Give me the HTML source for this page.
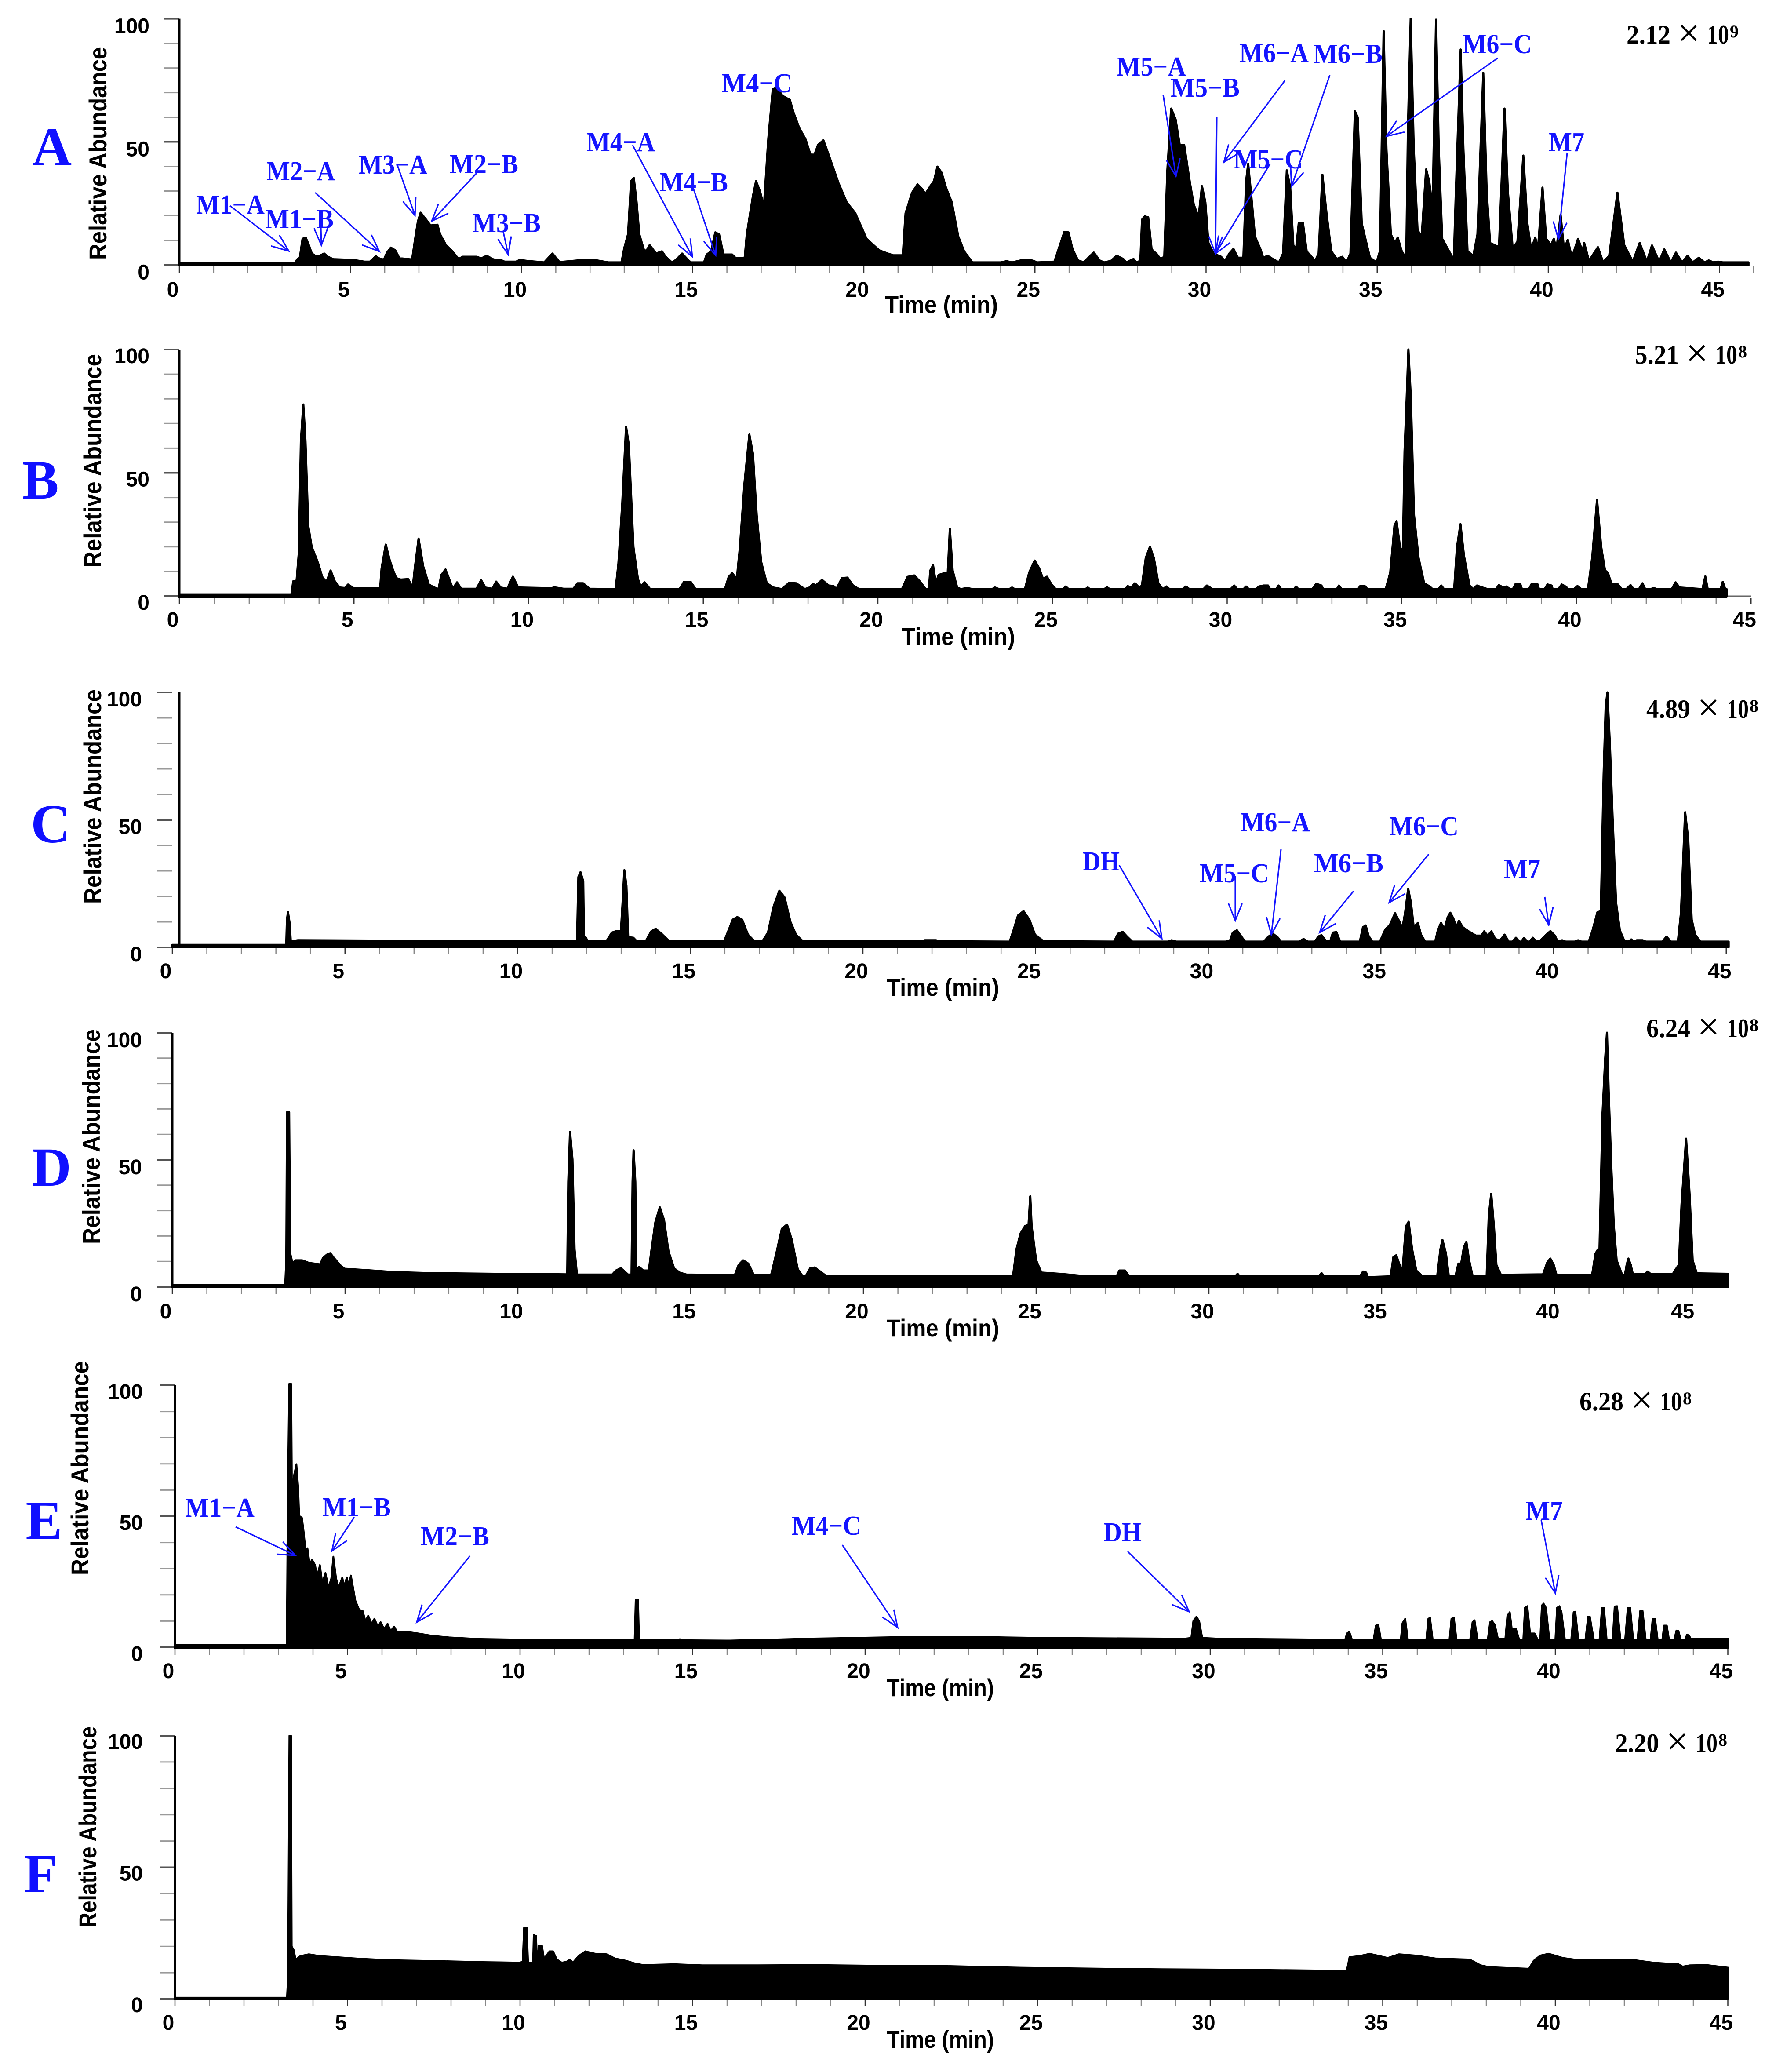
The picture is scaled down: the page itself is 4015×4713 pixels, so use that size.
<!DOCTYPE html>
<html lang="en">
<head>
<meta charset="utf-8">
<title>Chromatograms A-F</title>
<style>
html,body{margin:0;padding:0;background:#fff;}
svg{display:block;}
.tick{font-family:"Liberation Sans",Arial,sans-serif;font-weight:700;font-size:48px;fill:#000;}
.axt{font-family:"Liberation Sans",Arial,sans-serif;font-weight:700;font-size:56px;fill:#000;}
.yt{font-family:"Liberation Sans",Arial,sans-serif;font-weight:700;font-size:56px;fill:#000;}
.pl{font-family:"Liberation Serif",serif;font-weight:700;font-size:125px;fill:#1010ff;text-anchor:middle;}
.lb{font-family:"Liberation Serif",serif;font-weight:700;font-size:62px;fill:#1414ff;}
.v{font-family:"Liberation Serif",serif;font-weight:700;font-size:60px;fill:#000;}
.vx{font-family:"Liberation Serif",serif;font-size:90px;fill:#000;}
.vs{font-family:"Liberation Serif",serif;font-weight:700;font-size:40px;fill:#000;}
</style>
</head>
<body>
<svg id="figure" xmlns="http://www.w3.org/2000/svg" width="4015" height="4713" viewBox="0 0 4015 4713">
<rect x="0" y="0" width="4015" height="4713" fill="#fff"/>
<g id="marks"></g>

<text class="pl" x="118" y="376">A</text>
<text class="pl" x="92" y="1134">B</text>
<text class="pl" x="115" y="1916">C</text>
<text class="pl" x="117" y="2697">D</text>
<text class="pl" x="100" y="3500">E</text>
<text class="pl" x="93" y="4304">F</text>

<text class="yt" transform="translate(242,591) rotate(-90)" textLength="484" lengthAdjust="spacingAndGlyphs">Relative Abundance</text>
<text class="yt" transform="translate(230,1291) rotate(-90)" textLength="486" lengthAdjust="spacingAndGlyphs">Relative Abundance</text>
<text class="yt" transform="translate(230,2056) rotate(-90)" textLength="488" lengthAdjust="spacingAndGlyphs">Relative Abundance</text>
<text class="yt" transform="translate(227,2830) rotate(-90)" textLength="489" lengthAdjust="spacingAndGlyphs">Relative Abundance</text>
<text class="yt" transform="translate(201,3583) rotate(-90)" textLength="487" lengthAdjust="spacingAndGlyphs">Relative Abundance</text>
<text class="yt" transform="translate(219,4385) rotate(-90)" textLength="458" lengthAdjust="spacingAndGlyphs">Relative Abundance</text>

<text class="axt" x="2013" y="712" textLength="257" lengthAdjust="spacingAndGlyphs">Time (min)</text>
<text class="axt" x="2051" y="1467" textLength="258" lengthAdjust="spacingAndGlyphs">Time (min)</text>
<text class="axt" x="2017" y="2265" textLength="256" lengthAdjust="spacingAndGlyphs">Time (min)</text>
<text class="axt" x="2017" y="3040" textLength="256" lengthAdjust="spacingAndGlyphs">Time (min)</text>
<text class="axt" x="2017" y="3858" textLength="244" lengthAdjust="spacingAndGlyphs">Time (min)</text>
<text class="axt" x="2017" y="4658" textLength="244" lengthAdjust="spacingAndGlyphs">Time (min)</text>

<g transform="translate(3700,99)"><text class="v" textLength="100" lengthAdjust="spacingAndGlyphs">2.12</text><text class="vx" x="116" y="6">×</text><text class="v" x="183" textLength="50" lengthAdjust="spacingAndGlyphs">10</text><text class="vs" x="235" y="-14">9</text></g>
<g transform="translate(3719,827)"><text class="v" textLength="100" lengthAdjust="spacingAndGlyphs">5.21</text><text class="vx" x="116" y="6">×</text><text class="v" x="183" textLength="50" lengthAdjust="spacingAndGlyphs">10</text><text class="vs" x="235" y="-14">8</text></g>
<g transform="translate(3745,1633)"><text class="v" textLength="100" lengthAdjust="spacingAndGlyphs">4.89</text><text class="vx" x="116" y="6">×</text><text class="v" x="183" textLength="50" lengthAdjust="spacingAndGlyphs">10</text><text class="vs" x="235" y="-14">8</text></g>
<g transform="translate(3745,2359)"><text class="v" textLength="100" lengthAdjust="spacingAndGlyphs">6.24</text><text class="vx" x="116" y="6">×</text><text class="v" x="183" textLength="50" lengthAdjust="spacingAndGlyphs">10</text><text class="vs" x="235" y="-14">8</text></g>
<g transform="translate(3593,3208)"><text class="v" textLength="100" lengthAdjust="spacingAndGlyphs">6.28</text><text class="vx" x="116" y="6">×</text><text class="v" x="183" textLength="50" lengthAdjust="spacingAndGlyphs">10</text><text class="vs" x="235" y="-14">8</text></g>
<g transform="translate(3674,3985)"><text class="v" textLength="100" lengthAdjust="spacingAndGlyphs">2.20</text><text class="vx" x="116" y="6">×</text><text class="v" x="183" textLength="50" lengthAdjust="spacingAndGlyphs">10</text><text class="vs" x="235" y="-14">8</text></g>

<g id="arrows"></g>

<g>
<text class="lb" x="446" y="486" textLength="156" lengthAdjust="spacingAndGlyphs">M1−A</text>
<text class="lb" x="603" y="519" textLength="156" lengthAdjust="spacingAndGlyphs">M1−B</text>
<text class="lb" x="606" y="410" textLength="156" lengthAdjust="spacingAndGlyphs">M2−A</text>
<text class="lb" x="816" y="395" textLength="156" lengthAdjust="spacingAndGlyphs">M3−A</text>
<text class="lb" x="1023" y="394" textLength="156" lengthAdjust="spacingAndGlyphs">M2−B</text>
<text class="lb" x="1074" y="528" textLength="156" lengthAdjust="spacingAndGlyphs">M3−B</text>
<text class="lb" x="1334" y="344" textLength="156" lengthAdjust="spacingAndGlyphs">M4−A</text>
<text class="lb" x="1500" y="435" textLength="156" lengthAdjust="spacingAndGlyphs">M4−B</text>
<text class="lb" x="1642" y="210" textLength="160" lengthAdjust="spacingAndGlyphs">M4−C</text>
<text class="lb" x="2540" y="172" textLength="158" lengthAdjust="spacingAndGlyphs">M5−A</text>
<text class="lb" x="2662" y="220" textLength="158" lengthAdjust="spacingAndGlyphs">M5−B</text>
<text class="lb" x="2819" y="141" textLength="158" lengthAdjust="spacingAndGlyphs">M6−A</text>
<text class="lb" x="2987" y="143" textLength="158" lengthAdjust="spacingAndGlyphs">M6−B</text>
<text class="lb" x="2806" y="383" textLength="158" lengthAdjust="spacingAndGlyphs">M5−C</text>
<text class="lb" x="3327" y="121" textLength="158" lengthAdjust="spacingAndGlyphs">M6−C</text>
<text class="lb" x="3523" y="344" textLength="81" lengthAdjust="spacingAndGlyphs">M7</text>
</g>
<g>
<text class="lb" x="2463" y="1980" textLength="84" lengthAdjust="spacingAndGlyphs">DH</text>
<text class="lb" x="2729" y="2007" textLength="158" lengthAdjust="spacingAndGlyphs">M5−C</text>
<text class="lb" x="2822" y="1891" textLength="158" lengthAdjust="spacingAndGlyphs">M6−A</text>
<text class="lb" x="2989" y="1984" textLength="158" lengthAdjust="spacingAndGlyphs">M6−B</text>
<text class="lb" x="3160" y="1900" textLength="158" lengthAdjust="spacingAndGlyphs">M6−C</text>
<text class="lb" x="3421" y="1997" textLength="83" lengthAdjust="spacingAndGlyphs">M7</text>
</g>
<g>
<text class="lb" x="421" y="3450" textLength="158" lengthAdjust="spacingAndGlyphs">M1−A</text>
<text class="lb" x="733" y="3449" textLength="156" lengthAdjust="spacingAndGlyphs">M1−B</text>
<text class="lb" x="957" y="3515" textLength="156" lengthAdjust="spacingAndGlyphs">M2−B</text>
<text class="lb" x="1801" y="3491" textLength="158" lengthAdjust="spacingAndGlyphs">M4−C</text>
<text class="lb" x="2510" y="3506" textLength="87" lengthAdjust="spacingAndGlyphs">DH</text>
<text class="lb" x="3471" y="3457" textLength="84" lengthAdjust="spacingAndGlyphs">M7</text>
</g>
</svg>

<script>
// Series values: [time in minutes, relative abundance in %]
const panelAPoints = [[0,.6],[3.39,.7],[3.44,2.2],[3.52,2.9],[3.6,10.6],[3.69,11.1],[3.77,8.5],[3.87,4.6],[3.97,3.7],[4.1,3.7],[4.23,4.6],[4.34,3.3],[4.5,2.3],[5.08,2],[5.41,1.3],[5.57,1.3],[5.74,3.5],[5.87,2.4],[5.98,2.2],[6.07,5],[6.18,7],[6.31,5.9],[6.43,2.7],[6.8,2.2],[6.89,10.6],[6.97,17.6],[7.05,21.2],[7.18,18.9],[7.34,16],[7.54,16.3],[7.62,12.4],[7.79,8],[7.95,5.9],[8.16,2.4],[8.28,3.3],[8.69,3.3],[8.82,2.6],[8.98,3.7],[9.18,2.2],[9.39,2],[9.5,1.3],[9.84,1.3],[9.95,2],[10.16,1.6],[10.66,1],[10.9,4.6],[11.11,1.1],[11.8,2],[12.21,1.8],[12.54,1],[12.92,1],[13,6.8],[13.11,12.4],[13.2,34],[13.28,35.3],[13.36,25.4],[13.44,12.4],[13.57,6.3],[13.64,5.5],[13.74,8],[13.93,4.6],[14.1,5.5],[14.21,3.3],[14.39,1],[14.51,2],[14.69,4.6],[14.89,1.6],[14.95,1],[15.33,1],[15.41,4.2],[15.54,5.5],[15.66,13.2],[15.77,12.4],[15.9,4.2],[16.15,4.2],[16.26,2.7],[16.52,2.9],[16.58,12.4],[16.76,28],[16.85,34],[16.97,29.7],[17.08,23.6],[17.21,51.3],[17.34,71.3],[17.46,72],[17.62,68.7],[17.84,67],[17.95,61.7],[18.11,55.7],[18.3,50.9],[18.44,44.8],[18.56,44.8],[18.66,48.7],[18.82,50.6],[18.98,44.4],[19.26,33.2],[19.5,25.4],[19.75,21],[20.08,10.6],[20.45,5.9],[20.7,4.6],[20.86,3.9],[21.14,3.9],[21.22,21],[21.41,29.3],[21.57,32.7],[21.69,31],[21.8,28.8],[21.94,31.9],[22.05,34],[22.15,39.9],[22.27,37.5],[22.4,31.4],[22.57,25.4],[22.76,11.5],[22.93,5.5],[23.17,1],[24,1],[24.17,1.5],[24.33,1],[24.58,1.8],[24.91,1.8],[25.07,1],[25.57,1.3],[25.73,8],[25.86,13.4],[25.98,13.2],[26.1,6.3],[26.26,1.8],[26.43,1],[26.56,2.9],[26.72,5],[26.89,1.8],[27.02,1],[27.22,1.6],[27.39,3.7],[27.58,2.4],[27.67,1],[27.88,2.4],[27.96,1],[28.08,1.6],[28.13,18.4],[28.21,19.7],[28.31,19.3],[28.41,6.3],[28.57,4.2],[28.67,2.4],[28.78,3.3],[28.87,38.4],[28.98,63.5],[29.11,59.1],[29.23,48.7],[29.36,48.7],[29.53,33.2],[29.64,24.5],[29.78,19.3],[29.88,32],[29.98,25.4],[30.07,8.9],[30.22,4.6],[30.44,3.3],[30.55,1.5],[30.68,4.6],[30.8,6.5],[30.93,2.9],[31.09,2.9],[31.17,34],[31.23,41],[31.31,29.7],[31.43,11.5],[31.59,6.3],[31.67,2.9],[31.8,3.7],[31.95,2.4],[32.13,1],[32.25,4.6],[32.36,38.4],[32.46,31.4],[32.55,8],[32.63,6.3],[32.71,17.1],[32.83,17.1],[32.94,5.5],[33.19,1.6],[33.29,4.6],[33.4,36.6],[33.52,21],[33.66,5.5],[33.82,2.4],[33.98,3.3],[34.1,1],[34.22,4.6],[34.35,62.4],[34.43,60],[34.55,16.7],[34.79,2.9],[34.98,1],[35.08,5.5],[35.19,95],[35.27,47],[35.4,12.4],[35.52,8.9],[35.6,11.1],[35.72,5.5],[35.85,2.4],[35.9,55.7],[35.98,100],[36.07,47],[36.18,14.1],[36.3,11.5],[36.43,38.8],[36.52,34],[36.62,22.8],[36.72,99.6],[36.8,47],[36.9,10.6],[37.24,2],[37.3,29.7],[37.44,87.5],[37.52,47],[37.64,5.5],[37.81,3.7],[37.93,12.4],[38.1,78],[38.2,29.7],[38.3,8.9],[38.56,7.2],[38.72,63.5],[38.82,29.7],[38.96,6.8],[39.1,9.4],[39.27,44.4],[39.39,16.7],[39.5,6.3],[39.62,11.1],[39.7,6.3],[39.83,31.4],[39.94,10.6],[40.08,8],[40.16,10.6],[40.24,6.3],[40.36,20.3],[40.46,6.3],[40.57,10.2],[40.69,2.9],[40.87,10.6],[41,5.5],[41.05,8.9],[41.19,1.6],[41.45,7.2],[41.6,1.1],[41.78,3.7],[42.02,29.3],[42.22,8],[42.47,1.3],[42.67,8.9],[42.88,1.3],[43.03,7.9],[43.24,1.3],[43.39,6.3],[43.58,1],[43.73,5],[43.91,1],[44.07,3.7],[44.22,1],[44.4,2.9],[44.56,1],[44.69,1.8],[44.83,1],[44.96,1.3],[45.1,1],[45.85,1]];

const panelBPoints = [[0,.7],[3.21,.7],[3.26,6],[3.32,6.2],[3.35,5.2],[3.42,17.3],[3.48,63],[3.55,77.7],[3.61,63],[3.69,28.5],[3.79,19.9],[3.88,16.8],[3.98,13],[4.09,7.8],[4.21,5.6],[4.33,10.4],[4.45,6],[4.59,3.5],[4.74,3.3],[4.83,4.7],[4.98,3.3],[5.75,3.3],[5.79,11.2],[5.91,20.9],[6.02,14.7],[6.1,11.2],[6.21,7.3],[6.34,6.7],[6.55,6.9],[6.68,3.5],[6.74,11.2],[6.85,23.3],[6.98,12.1],[7.14,4.75],[7.3,3.5],[7.42,2.85],[7.5,8.6],[7.62,10.8],[7.75,6],[7.83,3],[7.95,5.6],[8.07,3],[8.51,3],[8.64,6.5],[8.76,3.5],[8.96,3],[9.07,5.9],[9.2,3.5],[9.39,3],[9.55,7.9],[9.7,3.5],[10.67,3.2],[10.72,3.6],[11,3],[11.28,3],[11.4,5.2],[11.56,5.2],[11.75,3],[12.49,2.85],[12.57,13],[12.68,37.1],[12.79,68.7],[12.87,61.3],[13,19.9],[13.13,6.9],[13.21,3.9],[13.32,5.6],[13.48,2.85],[14.32,2.85],[14.45,5.8],[14.64,5.8],[14.78,2.85],[15.62,2.85],[15.73,7.8],[15.83,9.3],[15.96,6.9],[16.05,19.9],[16.18,45.8],[16.32,65.5],[16.42,57.9],[16.53,32.8],[16.66,13.8],[16.82,5.2],[17.01,3.5],[17.25,2.85],[17.46,5.4],[17.66,5.2],[17.91,2.85],[18.04,3.5],[18.14,5],[18.22,4.3],[18.4,6.6],[18.59,4.3],[18.73,4.1],[18.81,2.85],[18.97,7.3],[19.13,7.5],[19.29,4.3],[19.46,2.85],[20.69,2.85],[20.85,7.8],[21.04,8.4],[21.2,6],[21.37,2.85],[21.46,2.85],[21.5,10.4],[21.58,12.5],[21.66,5.2],[21.74,8.6],[21.9,9.3],[22,9.5],[22.06,27.2],[22.14,10.4],[22.27,3.5],[22.38,2.85],[22.55,3.3],[22.71,2.85],[23.27,2.85],[23.35,3.5],[23.47,2.85],[23.76,2.85],[23.84,3.5],[23.92,2.85],[24.21,2.85],[24.33,9.5],[24.49,14.4],[24.62,11.2],[24.73,6.9],[24.84,7.9],[24.97,4.75],[25.09,2.85],[25.3,2.85],[25.38,3.9],[25.46,2.85],[25.94,2.85],[26.01,3.5],[26.07,2.85],[26.48,2.85],[26.56,3.6],[26.64,2.85],[27.09,2.85],[27.15,4.1],[27.25,3.5],[27.36,5.2],[27.48,3.5],[27.56,4.3],[27.67,15.5],[27.79,20],[27.9,15.5],[28.03,5.2],[28.16,2.85],[28.26,3.9],[28.35,2.85],[28.72,2.85],[28.82,3.9],[28.92,2.85],[29.32,2.85],[29.42,4.3],[29.58,2.85],[30.1,2.85],[30.2,4.3],[30.29,2.85],[30.47,2.85],[30.54,3.9],[30.62,2.85],[30.83,2.85],[30.91,3.9],[31.04,4.3],[31.17,4.3],[31.23,2.85],[31.41,2.85],[31.47,4.3],[31.55,2.85],[31.92,2.85],[31.97,3.9],[32.04,2.85],[32.44,2.85],[32.55,5],[32.7,4.3],[32.75,2.85],[33.14,2.85],[33.2,4.3],[33.28,2.85],[33.75,2.85],[33.81,4.1],[33.94,4.1],[34.02,2.85],[34.54,2.85],[34.67,9.5],[34.79,28.5],[34.85,30.4],[34.95,19.9],[35.03,17.3],[35.08,58.7],[35.14,80.3],[35.19,100],[35.26,80.3],[35.35,32.8],[35.48,15.5],[35.64,5.2],[35.8,3.9],[35.88,2.85],[36.05,2.85],[36.13,4.3],[36.21,2.85],[36.5,2.85],[36.58,19.9],[36.68,29.2],[36.78,16.4],[36.94,4.3],[37.05,2.85],[37.15,4.3],[37.31,3.5],[37.46,2.85],[37.7,2.85],[37.78,4.5],[37.91,3.5],[37.99,3.9],[38.1,2.85],[38.18,2.85],[38.26,5],[38.39,5],[38.44,2.85],[38.64,2.85],[38.72,5],[38.88,5],[38.93,2.85],[39.09,2.85],[39.17,4.75],[39.29,4.3],[39.32,2.85],[39.48,2.85],[39.58,4.7],[39.69,3.9],[39.77,2.85],[39.93,2.85],[40.03,4.1],[40.14,2.85],[40.33,2.85],[40.45,15.5],[40.59,39],[40.71,19.9],[40.82,10.4],[40.9,9.5],[41.01,4.75],[41.19,4.75],[41.3,2.85],[41.43,2.85],[41.55,4.5],[41.64,2.85],[41.79,2.85],[41.89,5.2],[41.97,2.85],[42.13,2.85],[42.21,3.3],[42.31,2.85],[42.73,2.85],[42.84,5.6],[42.95,3.5],[43.61,2.85],[43.69,8],[43.76,2.85],[44.13,2.85],[44.19,5.8],[44.26,2.85],[44.3,2.85]];

const panelCPoints = [[0,1],[3.3,1],[3.32,10.9],[3.35,13.8],[3.4,9.2],[3.43,2.4],[3.63,2.8],[10.46,2.4],[11.72,2.4],[11.76,27.6],[11.82,29.5],[11.9,25.9],[11.92,4.3],[11.98,3.8],[12.02,2.4],[12.57,2.4],[12.73,5.8],[12.86,6.4],[12.99,6.3],[13.04,17.5],[13.09,30.3],[13.15,24.2],[13.2,4],[13.35,3.8],[13.45,2.4],[13.71,2.4],[13.87,6.3],[14,7.3],[14.16,5.4],[14.39,2.4],[15.98,2.4],[16.11,6.7],[16.23,10.9],[16.36,11.9],[16.5,10.9],[16.67,5],[16.86,2.4],[17.09,2.4],[17.25,5.8],[17.41,15.9],[17.58,22.2],[17.73,19.6],[17.9,10],[18.06,5],[18.26,2.4],[21.71,2.4],[21.79,2.8],[22.12,2.8],[22.2,2.4],[24.25,2.25],[24.36,6.7],[24.49,12.5],[24.65,14.2],[24.82,10.9],[24.98,5],[25.23,2.4],[27.27,2.25],[27.39,5.4],[27.52,6.1],[27.65,4.2],[27.8,2.25],[28.83,2.25],[28.94,2.8],[29.07,2.25],[30.5,2.25],[30.63,2.7],[30.71,5.8],[30.83,6.7],[30.96,4.2],[31.07,2.25],[31.61,2.25],[31.74,4.2],[31.87,5.4],[32.02,3.8],[32.1,2.25],[32.63,2.25],[32.76,3.3],[32.89,2.25],[33.09,2.25],[33.19,4.3],[33.28,4.8],[33.41,2.5],[33.53,2.25],[33.61,5.8],[33.71,6],[33.82,2.25],[34.39,2.25],[34.48,7.9],[34.56,8.6],[34.64,4.6],[34.75,2.25],[34.97,2.25],[35.13,7.1],[35.26,8.8],[35.41,13.4],[35.54,10],[35.62,7.5],[35.7,13.4],[35.79,23],[35.87,17.5],[35.95,7.9],[36.07,9.6],[36.16,5],[36.28,2.25],[36.57,2.25],[36.65,6.7],[36.74,9.6],[36.84,7.1],[36.93,11.7],[37.01,13.6],[37.1,11.3],[37.18,7.9],[37.26,10.4],[37.37,7.9],[37.54,6.3],[37.75,4.6],[37.91,4.6],[37.99,6.3],[38.09,4.6],[38.2,6.3],[38.31,3.3],[38.45,2.7],[38.58,5],[38.7,2.25],[38.81,2.25],[38.91,3.8],[39.01,2.25],[39.07,2.25],[39.14,3.7],[39.24,2.25],[39.3,2.25],[39.4,3.8],[39.5,2.25],[39.6,2.5],[39.76,4.6],[39.91,6.4],[40.04,4.6],[40.12,2.25],[40.25,2.8],[40.35,2.25],[40.61,2.25],[40.71,2.8],[40.81,2.25],[41.02,2.25],[41.13,6.7],[41.27,13.8],[41.37,14.2],[41.45,67.7],[41.51,94.4],[41.56,100],[41.63,80.2],[41.71,50.9],[41.81,17.5],[41.92,6.7],[42.05,2.5],[42.17,2.25],[42.25,3.1],[42.33,2.25],[42.41,2.8],[42.58,2.8],[42.67,2.25],[43.15,2.25],[43.27,4.2],[43.4,2.25],[43.6,2.25],[43.69,13.4],[43.81,53],[43.9,42.5],[44,10.9],[44.1,5],[44.25,2.25],[45.07,2.25]];

const panelDPoints = [[0,.7],[3.27,.7],[3.3,10.4],[3.32,68.7],[3.38,68.7],[3.41,13.1],[3.48,9.1],[3.56,10.4],[3.76,10.4],[3.95,9.4],[4.28,8.8],[4.36,11.3],[4.47,12.6],[4.57,13.2],[4.68,11.3],[4.85,8.6],[4.98,7.1],[5.58,6.6],[6.39,5.8],[7.37,5.4],[9.32,5.1],[11.43,4.9],[11.46,41.3],[11.51,60.9],[11.58,50.1],[11.64,14.8],[11.71,4.8],[12.73,4.8],[12.84,6.4],[12.98,7.3],[13.09,6],[13.19,4.8],[13.29,4.8],[13.32,41.3],[13.35,53.7],[13.4,41.3],[13.43,6.9],[13.51,7.8],[13.63,6.4],[13.79,6.4],[13.87,14.8],[13.98,25.4],[14.11,31.3],[14.23,26.3],[14.36,13.9],[14.52,7.3],[14.68,5.6],[14.88,4.8],[16.28,4.6],[16.39,8.6],[16.52,10.4],[16.67,9.1],[16.83,4.6],[17.33,4.6],[17.48,13.1],[17.64,22.8],[17.79,24.5],[17.93,18.4],[18.1,6.9],[18.23,4.4],[18.34,4.4],[18.46,7.3],[18.59,7.6],[18.75,6],[18.91,4.4],[24.33,4.1],[24.43,14.8],[24.55,21],[24.68,23.9],[24.78,24.5],[24.83,35.6],[24.87,23.7],[25,10.4],[25.15,5.6],[25.69,5.1],[26.26,4.4],[27.33,4.1],[27.41,6.4],[27.57,6.4],[27.69,4.1],[30.76,4.1],[30.83,5.1],[30.89,4.1],[33.18,4.1],[33.26,5.4],[33.34,4.1],[34.37,4.1],[34.46,6],[34.55,5.6],[34.6,3.8],[35.26,4.1],[35.34,11.7],[35.42,12.4],[35.52,8.6],[35.6,6],[35.7,23.7],[35.78,25.6],[35.88,14.8],[36,6.4],[36.16,4.4],[36.61,4.4],[36.7,14.8],[36.76,18.4],[36.86,13.1],[36.94,4.4],[37.14,4.4],[37.22,9.1],[37.3,9.1],[37.38,15.7],[37.45,17.7],[37.53,10.4],[37.63,4.4],[38.04,4.4],[38.1,28.1],[38.17,36.6],[38.25,23.7],[38.32,8.6],[38.45,4.7],[39.67,4.9],[39.79,9.5],[39.88,11.1],[39.98,8.6],[40.06,4.7],[41.09,4.7],[41.19,13.1],[41.26,14.7],[41.3,12.2],[41.39,67.8],[41.47,89.9],[41.52,100],[41.57,76.6],[41.65,45.7],[41.72,23.7],[41.8,10.4],[41.96,4.7],[42.04,4.7],[42.09,8.6],[42.14,11.1],[42.21,8.6],[42.27,4.9],[42.62,5.1],[42.7,6],[42.78,5.1],[43.43,5.1],[43.51,6.9],[43.6,8.6],[43.68,32.5],[43.81,58.3],[43.91,36.9],[44,10.4],[44.12,5.3],[45.02,5.1]];

const panelEPoints = [[0,.85],[3.24,.85],[3.27,57.1],[3.31,100.5],[3.37,100.5],[3.39,58.8],[3.45,65.6],[3.52,69.9],[3.57,61.3],[3.6,50.2],[3.68,49.4],[3.73,44.2],[3.78,37.4],[3.84,37.8],[3.91,31.4],[3.97,33.5],[4.06,31.4],[4.12,27.1],[4.2,31.4],[4.27,24.6],[4.36,28.4],[4.45,22.8],[4.53,26.3],[4.59,34.6],[4.67,26.3],[4.74,22.8],[4.85,26.7],[4.9,23.3],[4.98,26.7],[5.03,23.7],[5.1,27.4],[5.16,22.8],[5.23,17.7],[5.34,14.3],[5.44,13.9],[5.52,10],[5.6,12.1],[5.7,9],[5.78,10.9],[5.88,7.9],[5.96,9.6],[6.06,7],[6.16,9],[6.25,6.2],[6.35,7.9],[6.45,5.7],[6.73,5.9],[7.05,5.3],[7.46,4.4],[7.95,3.8],[8.76,3.2],[10.39,2.9],[13.32,2.7],[13.35,18.1],[13.42,18.1],[13.45,2.7],[14.54,2.7],[14.63,3.1],[14.71,2.7],[16.09,2.6],[17.39,3],[18.31,3.3],[20.46,3.8],[20.9,3.9],[23.68,3.9],[25.16,3.6],[29.25,3.3],[29.45,3.6],[29.51,10],[29.6,11.7],[29.68,10],[29.77,3.6],[30.23,3.3],[33.91,2.9],[33.96,5.3],[34.03,5.9],[34.11,2.9],[34.73,2.7],[34.8,8.3],[34.87,8.7],[34.95,2.7],[35.52,2.7],[35.57,9.2],[35.65,10.9],[35.73,2.7],[36.26,2.7],[36.32,10.9],[36.37,11.3],[36.45,2.7],[36.93,2.7],[36.99,10.9],[37.06,11.3],[37.14,2.7],[37.53,2.7],[37.6,9.6],[37.66,10.3],[37.75,2.7],[38.04,2.7],[38.11,9.6],[38.17,10],[38.25,8.5],[38.34,3.2],[38.55,3.2],[38.61,12.1],[38.68,13.4],[38.74,7],[38.86,7],[38.96,2.7],[39.07,2.7],[39.12,15.1],[39.19,15.7],[39.27,5.3],[39.4,5.3],[39.5,2.7],[39.56,2.7],[39.61,16],[39.66,16.7],[39.73,15.1],[39.83,2.7],[40,2.7],[40.05,15.1],[40.12,15.7],[40.18,13.4],[40.28,2.7],[40.46,2.7],[40.53,13.4],[40.58,13.6],[40.67,2.7],[40.87,2.7],[40.95,11.7],[41,11.7],[41.12,2.7],[41.28,2.7],[41.35,15.1],[41.41,15.1],[41.49,2.7],[41.66,2.7],[41.72,15.6],[41.79,15.7],[41.89,2.7],[42.02,2.7],[42.1,15.1],[42.17,15.1],[42.26,2.7],[42.38,2.7],[42.46,13.9],[42.53,13.9],[42.62,2.7],[42.76,2.7],[42.82,10.9],[42.89,10.9],[42.97,2.7],[43.1,2.7],[43.15,8.3],[43.23,8.3],[43.3,2.7],[43.44,2.7],[43.51,6.4],[43.57,6.2],[43.64,2.7],[43.75,2.7],[43.82,4.9],[43.88,4.4],[43.93,3.2],[45.01,3.2]];

const panelFPoints = [[0,.6],[3.24,.6],[3.27,8.4],[3.31,100],[3.37,100],[3.39,20],[3.45,18.6],[3.5,15.1],[3.63,16.4],[3.88,17.1],[4.2,16.4],[4.69,16],[5.34,15.4],[6.32,14.8],[7.62,14.5],[8.93,14.1],[9.98,13.9],[10.07,14.2],[10.11,27.1],[10.2,27.1],[10.24,13.8],[10.37,13.8],[10.39,24.4],[10.47,24],[10.5,14.6],[10.54,20.4],[10.64,20.4],[10.7,15.5],[10.85,18.2],[10.96,18.2],[11.07,15.1],[11.21,13.9],[11.34,14.2],[11.45,15.1],[11.53,13.9],[11.69,16.4],[11.89,18.2],[12.18,17.3],[12.51,17.1],[12.75,15.5],[13.08,14.6],[13.33,13.6],[13.57,13],[14.46,13.3],[15.28,12.9],[16.9,12.9],[18.53,13],[20.46,12.7],[22.05,12.7],[24.5,12],[26.96,11.6],[28.6,11.4],[31.05,11.2],[33.95,10.8],[34.03,16],[34.32,16.4],[34.62,17.3],[34.98,16.2],[35.14,15.7],[35.47,17.1],[35.96,16.6],[36.53,15.5],[37.52,15.1],[37.84,12.9],[38.09,12.2],[39.23,11.6],[39.37,14.6],[39.56,16.6],[39.81,17.3],[40.22,15.7],[40.71,14.8],[41.37,14.8],[42.18,15.1],[42.84,13.9],[43.57,13.3],[43.69,12.4],[43.9,12.9],[44.39,13],[45.01,12]];

// Tick values and labels
const yTickValues = [0,10,20,30,40,50,60,70,80,90,100];
const yTickLabels = ["0","50","100"];
const xTickLabels = ["0","5","10","15","20","25","30","35","40","45"];
const xLabelMinutes = [0,5,10,15,20,25,30,35,40,45];
const xLabelMinutesD = [0,5,10,15,20,25,30,35,40,43.9];

// Axis geometry for each panel (not data)
const panels = [
  {id:'a',pts:panelAPoints,x0:408,perMin:77.85,top:42.6,zero:602.5,floor:606,axisX:408,tickL:372,tickEnd:408,lastMin:46,ylR:340,xlBase:675,ylOff:33,labels:xLabelMinutes,fat:5},
  {id:'b',pts:panelBPoints,x0:408,perMin:79.45,top:795,zero:1356,floor:1360,axisX:408,tickL:372,tickEnd:408,lastMin:45,ylR:340,xlBase:1426,ylOff:31,labels:xLabelMinutes,tail:45,fat:5},
  {id:'c',pts:panelCPoints,x0:392,perMin:78.55,top:1575,zero:2155,floor:2157,axisX:408,tickL:357,tickEnd:392,lastMin:45,ylR:323,xlBase:2225,ylOff:32,labels:xLabelMinutes,fat:5},
  {id:'d',pts:panelDPoints,x0:392,perMin:78.6,top:2349,zero:2927,floor:2930,axisX:392,tickL:357,tickEnd:392,lastMin:44,ylR:323,xlBase:2999,ylOff:33,labels:xLabelMinutesD,fat:5},
  {id:'e',pts:panelEPoints,x0:398,perMin:78.5,top:3151,zero:3747,floor:3750,axisX:398,tickL:363,tickEnd:398,lastMin:45,ylR:325,xlBase:3817,ylOff:31,labels:xLabelMinutes,fat:4},
  {id:'f',pts:panelFPoints,x0:398,perMin:78.5,top:3948,zero:4547,floor:4549,axisX:398,tickL:363,tickEnd:398,lastMin:45,ylR:325,xlBase:4617,ylOff:30,labels:xLabelMinutes,fat:3}
];

// Annotation arrows: label, start x, start y, tip x, tip y
const arrowList = [
  ['a-m1-a',523,468,657,571],['a-m1-b',730,519,731,558],['a-m2-a',717,438,863,572],['a-m3-a',903,373,944,490],
  ['a-m2-b',1084,394,982,503],['a-m3-b',1145,528,1156,579],['a-m4-a',1439,330,1575,584],['a-m4-b',1578,431,1628,581],
  ['a-m5-a',2646,216,2675,401],['a-m5-b',2768,265,2765,577],['a-m6-a',2923,183,2784,369],['a-m6-b',3025,171,2938,424],
  ['a-m5-c',2889,373,2765,577],['a-m6-c',3407,132,3154,310],['a-m7',3565,347,3545,544],
  ['c-dh',2546,1968,2643,2135],['c-m5-c',2810,1993,2810,2094],['c-m6-a',2914,1932,2892,2126],['c-m6-b',3079,2027,3002,2121],
  ['c-m6-c',3250,1943,3160,2053],['c-m7',3514,2040,3523,2104],
  ['e-m1-a',536,3473,672,3538],['e-m1-b',806,3451,755,3528],['e-m2-b',1069,3539,948,3690],['e-m4-c',1916,3514,2042,3702],
  ['e-dh',2565,3529,2705,3666],['e-m7',3506,3458,3538,3624]
];

const NS = 'http://www.w3.org/2000/svg';
const marks = document.getElementById('marks');
const arrowLayer = document.getElementById('arrows');

function make(tag, attrs, parent) {
  const el = document.createElementNS(NS, tag);
  for (const k in attrs) el.setAttribute(k, attrs[k]);
  parent.appendChild(el);
  return el;
}

panels.forEach(function (p) {
  const xScale = function (t) { return p.x0 + t * p.perMin; };
  const yScale = function (v) { return p.zero - (p.zero - p.top) * v / 100; };
  const g = make('g', {}, marks);
  
  

  // minor and major y ticks
  yTickValues.forEach(function (v) {
    const major = v % 50 === 0;
    const tick = make('line', {x1:p.tickL, x2:p.tickEnd, y1:yScale(v), y2:yScale(v), stroke: major ? '#555' : '#9a9a9a', 'stroke-width': major ? 4 : 3}, g);
    
    
  });
  // y tick labels
  yTickLabels.forEach(function (label) {
    const lab = make('text', {'class':'tick', x:p.ylR, y:yScale(Number(label)) + p.ylOff, 'text-anchor':'end'}, g);
    lab.textContent = label;
    
    
  });
  // x ticks, one per minute
  for (let m = 0; m <= p.lastMin; m++) {
    const tick = make('line', {x1:xScale(m), x2:xScale(m), y1:p.floor, y2:p.floor + 14, stroke: m % 5 === 0 ? '#333' : '#888', 'stroke-width':2.5}, g);
    
    
  }
  // x tick labels
  xTickLabels.forEach(function (label, i) {
    const lab = make('text', {'class':'tick', x:xScale(p.labels[i]) - 15, y:p.xlBase, 'text-anchor':'middle'}, g);
    lab.textContent = label;
    
    
  });
  // thin baseline continuation past the end of the trace
  if (p.tail) {
    const tail = make('line', {x1:xScale(p.pts[p.pts.length - 1][0]), x2:xScale(p.tail), y1:p.zero, y2:p.zero, stroke:'#666', 'stroke-width':3}, g);
    
    
  }
  // filled trace; the stroke reproduces the width of the original's blurred peaks
  const first = p.pts[0], last = p.pts[p.pts.length - 1];
  const inset = p.fat / 2;
  let d = 'M' + xScale(first[0]).toFixed(1) + ' ' + (p.floor - inset);
  p.pts.forEach(function (pt) {
    d += 'L' + xScale(pt[0]).toFixed(1) + ' ' + yScale(pt[1]).toFixed(1);
  });
  d += 'L' + xScale(last[0]).toFixed(1) + ' ' + (p.floor - inset) + 'Z';
  const area = make('path', {d:d, fill:'#000', stroke:'#000', 'stroke-width':p.fat, 'stroke-linejoin':'round'}, g);
  
  
  // y axis line
  const axis = make('line', {x1:p.axisX, x2:p.axisX, y1:p.top, y2:p.floor, stroke:'#000', 'stroke-width':5}, g);
  
  
});

arrowList.forEach(function (a) {
  const x1 = a[1], y1 = a[2], x2 = a[3], y2 = a[4];
  const ang = Math.atan2(y2 - y1, x2 - x1);
  const len = 42, spread = 0.38;
  const lx = x2 - len * Math.cos(ang - spread), ly = y2 - len * Math.sin(ang - spread);
  const rx = x2 - len * Math.cos(ang + spread), ry = y2 - len * Math.sin(ang + spread);
  const d = 'M' + x1 + ' ' + y1 + 'L' + x2 + ' ' + y2 + 'M' + lx.toFixed(1) + ' ' + ly.toFixed(1) + 'L' + x2 + ' ' + y2 + 'L' + rx.toFixed(1) + ' ' + ry.toFixed(1);
  const arrow = make('path', {d:d, fill:'none', stroke:'#1414ff', 'stroke-width':3.2}, arrowLayer);
  
  
});
</script>
</body>
</html>
